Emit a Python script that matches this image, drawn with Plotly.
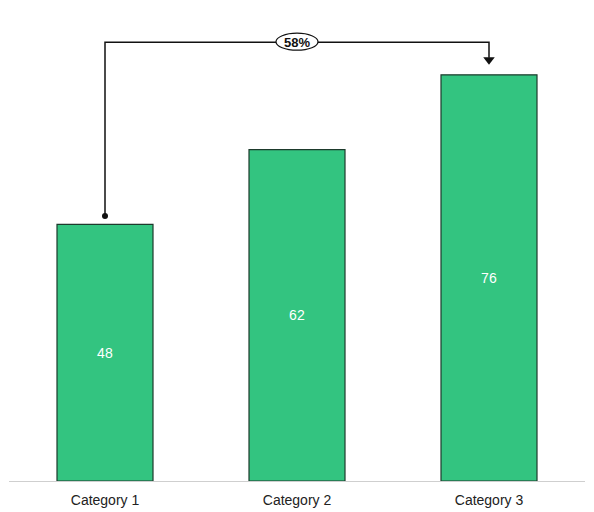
import plotly.graph_objects as go

categories = ["Category 1", "Category 2", "Category 3"]
values = [48, 62, 76]

bar_color = "#33c480"
edge_color = "#1d3a2c"

first, last = values[0], values[-1]
pct = round((last - first) / first * 100)

# connector levels (data units, derived from the values)
dot_y = first + 1.6
top_y = max(values) + 6.1
tip_y = last + 1.8
i0, i1 = 0, len(values) - 1
mid = (i0 + i1) / 2

fig = go.Figure()
fig.add_trace(go.Bar(
    x=list(range(len(categories))), y=values, width=0.5,
    marker=dict(color=bar_color, line=dict(color=edge_color, width=1.2)),
    text=[str(v) for v in values], textposition="inside", insidetextanchor="middle",
    textfont=dict(color="white", size=14, family="Liberation Sans"),
    hoverinfo="skip", showlegend=False,
))

# connector path
fig.add_shape(type="path", xref="x", yref="y",
              path=f"M {i0} {dot_y} L {i0} {top_y} L {i1} {top_y} L {i1} {tip_y + 1.4}",
              line=dict(color="#111", width=1.5), layer="above")
# start dot
fig.add_trace(go.Scatter(x=[i0], y=[dot_y], mode="markers",
                         marker=dict(symbol="circle", size=6, color="#111"),
                         hoverinfo="skip", showlegend=False))
# arrow head
fig.add_trace(go.Scatter(x=[i1], y=[tip_y + 1.0], mode="markers",
                         marker=dict(symbol="triangle-down", size=10, color="#111"),
                         hoverinfo="skip", showlegend=False))
# ellipse label
fig.add_shape(type="circle", xref="x", yref="y", xsizemode="pixel", ysizemode="pixel",
              xanchor=mid, yanchor=top_y, x0=-21, x1=21, y0=-8, y1=9,
              fillcolor="white", line=dict(color="#111", width=1.2), layer="above")
fig.add_annotation(x=mid, y=top_y, xref="x", yref="y", text=f"<b>{pct}%</b>",
                   showarrow=False, font=dict(size=13, color="#111", family="Liberation Sans"))

fig.update_layout(
    width=586, height=504,
    margin=dict(l=1, r=9, t=0, b=31),
    paper_bgcolor="white", plot_bgcolor="white",
    font=dict(family="Liberation Sans", color="#222"),
    xaxis=dict(tickmode="array", tickvals=list(range(len(categories))), ticktext=categories,
               range=[-0.5, len(categories) - 0.5], showgrid=False, zeroline=False,
               showline=True, linecolor="#cfcfcf", linewidth=1,
               tickfont=dict(size=14, color="#222"), ticks="", ticklabelstandoff=6),
    yaxis=dict(range=[0, 88.5], visible=False, showgrid=False, zeroline=False),
)

fig.write_html("out.html")
